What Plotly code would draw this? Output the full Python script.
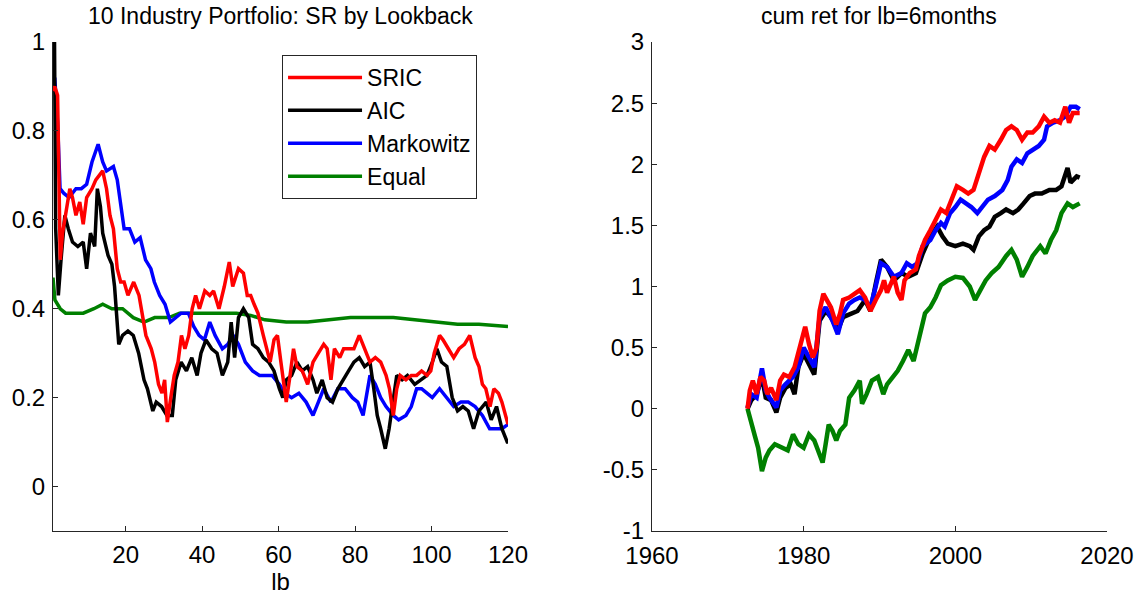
import plotly.graph_objects as go

# ---------------- Left panel: Sharpe ratio by lookback ----------------
sric_lb = [1, 1.45, 2.2, 2.6, 2.9, 3.5, 4.3, 5.4, 6.1, 7, 8, 8.9, 9.8, 11.2, 12.2, 13.1, 14, 15, 15.9, 16.8,
           17.8, 18.7, 19.6, 20.6, 22.1, 23.5, 24.4, 25.3, 26.7, 27.6, 28.6, 29.5, 30.2, 30.9, 31.8, 32.7, 33.7,
           34.6, 35.5, 36.5, 37.4, 38.3, 39.3, 40.7, 42, 43, 44.4, 45.8, 47.1, 48, 49.5, 50.8, 51.8, 52.7, 53.6,
           54.6, 56, 56.9, 57.8, 58.8, 59.7, 60.6, 61.6, 62, 63, 63.9, 64.8, 66.2, 67.6, 69, 70.4, 71.8, 72.7,
           73.7, 74.6, 76, 77, 78.3, 79.7, 81.1, 82.5, 83.9, 85.3, 86.7, 88.1, 89, 90, 90.9, 91.8, 93.3, 94.7,
           96.1, 97.4, 98.8, 99.8, 100.7, 102.1, 103, 104.4, 105.8, 107.2, 108.6, 110, 111.4, 112.4, 113.3,
           114.2, 115.3, 116.3, 117.5, 118.4, 119.8, 120]
sric_sr = [0.89, 0.90, 0.88, 0.72, 0.51, 0.57, 0.61, 0.67, 0.65, 0.61, 0.64, 0.59, 0.65, 0.67, 0.69, 0.70, 0.71,
           0.67, 0.61, 0.58, 0.49, 0.46, 0.46, 0.43, 0.46, 0.43, 0.39, 0.34, 0.31, 0.28, 0.23, 0.21, 0.24, 0.145,
           0.20, 0.25, 0.28, 0.34, 0.31, 0.34, 0.40, 0.43, 0.40, 0.44, 0.43, 0.44, 0.40, 0.45, 0.505, 0.45, 0.49,
           0.48, 0.43, 0.43, 0.41, 0.39, 0.34, 0.31, 0.28, 0.33, 0.34, 0.28, 0.21, 0.19, 0.25, 0.31, 0.27, 0.26,
           0.23, 0.28, 0.30, 0.32, 0.31, 0.24, 0.31, 0.29, 0.31, 0.31, 0.31, 0.34, 0.31, 0.28, 0.29, 0.28, 0.25,
           0.22, 0.16, 0.22, 0.25, 0.24, 0.25, 0.25, 0.26, 0.25, 0.26, 0.30, 0.34, 0.33, 0.31, 0.29, 0.31, 0.32,
           0.34, 0.29, 0.27, 0.23, 0.22, 0.18, 0.22, 0.21, 0.19, 0.15, 0.14]

aic_lb = [1, 1.4, 1.7, 2.4, 3.1, 4.1, 5, 6.1, 7.5, 8.9, 9.8, 10.8, 11.9, 12.6, 13.4, 14, 15.4, 16.4, 17.1, 18.2,
          19.2, 20.6, 22, 23.4, 24.8, 25.7, 27.1, 28, 29.4, 30.8, 32.2, 33.1, 34.5, 35.9, 37.3, 38.7, 39.7, 41,
          42.5, 43.9, 45.3, 46.7, 47.6, 48.5, 49.5, 50.8, 52.2, 53.2, 54.6, 56, 57.4, 58.8, 60.2, 61.1, 62, 63.4,
          64.8, 66.2, 67.6, 69, 70, 71.4, 72.7, 74.1, 75.5, 77, 78.3, 79.7, 81.1, 82.5, 83.9, 84.9, 85.8, 86.7,
          87.9, 88.9, 90, 90.9, 92.3, 93.7, 95.6, 97.4, 98.8, 100.2, 101.4, 102.6, 104, 105.4, 106.8, 108.2,
          109.6, 111, 112.4, 114.3, 115.6, 117, 118.4, 119.8, 120]
aic_sr = [0.97, 1.0, 0.58, 0.43, 0.51, 0.61, 0.58, 0.55, 0.54, 0.55, 0.49, 0.57, 0.54, 0.67, 0.63, 0.57, 0.52,
          0.50, 0.45, 0.32, 0.34, 0.35, 0.34, 0.30, 0.24, 0.22, 0.17, 0.19, 0.18, 0.16, 0.16, 0.24, 0.28, 0.26,
          0.29, 0.25, 0.30, 0.33, 0.31, 0.30, 0.25, 0.28, 0.37, 0.29, 0.38, 0.40, 0.38, 0.32, 0.31, 0.29, 0.28,
          0.26, 0.22, 0.20, 0.24, 0.25, 0.28, 0.26, 0.27, 0.24, 0.21, 0.24, 0.20, 0.19, 0.22, 0.24, 0.26, 0.28,
          0.29, 0.27, 0.28, 0.22, 0.16, 0.13, 0.085, 0.13, 0.20, 0.25, 0.24, 0.25, 0.23, 0.24, 0.25, 0.28, 0.31,
          0.28, 0.27, 0.20, 0.17, 0.18, 0.17, 0.13, 0.17, 0.19, 0.15, 0.18, 0.13, 0.10, 0.10]

mark_lb = [1, 1.45, 2.2, 2.85, 3.8, 5.2, 7.0, 8.4, 9.8, 11.2, 12.8, 14.0, 15, 16.8, 17.8, 18.7, 19.6, 21, 22.4,
           23.8, 25.2, 26.6, 27.5, 28.9, 30.3, 31.7, 33.1, 34.5, 36.4, 37.8, 39.2, 40.6, 42, 43.4, 45.3, 46.7,
           48.1, 49.5, 51.3, 53.2, 55, 56.4, 58.3, 60.2, 61.6, 63.4, 65.3, 67.2, 69, 70.4, 71.8, 73.7, 75.5, 77.4,
           79.3, 80.7, 82.1, 83.9, 85.3, 86.7, 88.1, 90, 91.4, 93.3, 94.7, 96.1, 97.4, 98.8, 100.2, 102.1, 104,
           105.8, 107.7, 109.6, 111.4, 113.3, 115.2, 117, 118.4, 120]
mark_sr = [0.91, 0.92, 0.82, 0.67, 0.66, 0.65, 0.67, 0.67, 0.68, 0.73, 0.77, 0.73, 0.71, 0.72, 0.69, 0.63, 0.58,
           0.58, 0.55, 0.56, 0.51, 0.49, 0.46, 0.43, 0.41, 0.37, 0.38, 0.39, 0.39, 0.36, 0.34, 0.33, 0.37, 0.34,
           0.31, 0.32, 0.34, 0.32, 0.28, 0.26, 0.25, 0.25, 0.25, 0.23, 0.21, 0.20, 0.21, 0.19, 0.16, 0.19, 0.22,
           0.19, 0.22, 0.22, 0.20, 0.19, 0.16, 0.25, 0.23, 0.20, 0.18, 0.16, 0.15, 0.16, 0.18, 0.22, 0.22, 0.21,
           0.20, 0.22, 0.20, 0.18, 0.19, 0.19, 0.18, 0.16, 0.13, 0.13, 0.13, 0.14]

equal_lb = [1, 1.5, 2.9, 4.3, 6.1, 8.9, 11.7, 14, 16.4, 19.2, 22, 24.8, 27.6, 31.3, 34.1, 37.8, 41.5, 45.3, 49,
            52.7, 56.4, 62, 67.6, 73.2, 78.8, 84.4, 90, 95.6, 101.2, 106.8, 112.4, 120]
equal_sr = [0.47, 0.42, 0.40, 0.39, 0.39, 0.39, 0.40, 0.41, 0.40, 0.40, 0.38, 0.37, 0.38, 0.38, 0.39, 0.39, 0.39,
            0.39, 0.39, 0.385, 0.375, 0.37, 0.37, 0.375, 0.38, 0.38, 0.38, 0.375, 0.37, 0.365, 0.365, 0.36]

# ---------------- Right panel: cumulative return, lb = 6 months ----------------
sric_yr = [1972.6, 1972.9, 1973.3, 1973.8, 1974.3, 1974.8, 1975.2, 1975.7, 1976.4, 1976.9, 1977.4, 1978.1,
           1978.8, 1979.3, 1979.8, 1980.2, 1980.7, 1981.2, 1981.7, 1982.1, 1982.6, 1983.1, 1983.6, 1984.3,
           1984.8, 1985.2, 1986, 1986.7, 1987.4, 1988.1, 1988.8, 1989.5, 1990.2, 1990.6, 1991.0, 1991.9, 1992.4,
           1992.9, 1993.3, 1994, 1994.8, 1995.2, 1996, 1996.7, 1997.4, 1998.1, 1998.8, 1999.5, 2000.2, 2001,
           2001.7, 2002.4, 2003.1, 2003.8, 2004.5, 2005.2, 2006, 2006.7, 2007.4, 2008.1, 2008.8, 2009.5, 2010.2,
           2011, 2011.7, 2012.4, 2013.1, 2013.8, 2014.5, 2015, 2015.5, 2016.4]
sric_cum = [0, 0.15, 0.23, 0.12, 0.26, 0.23, 0.12, 0.17, 0.07, 0.23, 0.28, 0.26, 0.34, 0.45, 0.58, 0.67, 0.53,
            0.42, 0.50, 0.80, 0.94, 0.89, 0.83, 0.69, 0.78, 0.89, 0.91, 0.94, 0.97, 0.91, 0.80, 0.89, 0.97, 1.05,
            0.95, 1.08, 0.95, 0.89, 1.05, 1.11, 1.14, 1.25, 1.38, 1.46, 1.55, 1.63, 1.60, 1.71, 1.82, 1.79, 1.76,
            1.79, 1.93, 2.06, 2.15, 2.12, 2.20, 2.28, 2.31, 2.28, 2.20, 2.26, 2.26, 2.31, 2.39, 2.34, 2.36, 2.34,
            2.47, 2.34, 2.42, 2.42]

aic_yr = [1972.6, 1973.1, 1973.8, 1974.5, 1975, 1975.7, 1976.4, 1976.9, 1977.6, 1978.3, 1978.8, 1979.3, 1980,
          1980.7, 1981.4, 1982.1, 1982.9, 1983.6, 1984.5, 1985.2, 1986.2, 1987.1, 1988.1, 1988.8, 1989.5, 1990.2,
          1991, 1991.9, 1992.9, 1993.8, 1994.8, 1995.7, 1996.7, 1997.6, 1998.3, 1999, 2000, 2001, 2001.9, 2002.4,
          2003.1, 2003.8, 2004.5, 2005.2, 2006, 2006.7, 2007.6, 2008.3, 2009, 2009.8, 2010.5, 2011.4, 2012.4,
          2013.3, 2014, 2014.8, 2015.2, 2016, 2016.4]
aic_cum = [0, 0.07, 0.12, 0.26, 0.09, 0.07, -0.03, 0.09, 0.17, 0.20, 0.12, 0.34, 0.45, 0.37, 0.28, 0.72, 0.80,
           0.75, 0.64, 0.75, 0.78, 0.80, 0.89, 0.80, 1.02, 1.22, 1.16, 1.05, 1.11, 1.08, 1.11, 1.27, 1.41, 1.49,
           1.41, 1.35, 1.33, 1.35, 1.33, 1.30, 1.41, 1.46, 1.49, 1.57, 1.60, 1.63, 1.60, 1.63, 1.68, 1.74, 1.76,
           1.76, 1.79, 1.79, 1.82, 1.97, 1.85, 1.90, 1.89]

mark_yr = [1972.6, 1973.1, 1973.8, 1974.5, 1975, 1975.5, 1976.4, 1976.9, 1977.6, 1978.6, 1979.3, 1980, 1980.7,
           1981.4, 1982.1, 1982.9, 1983.8, 1984.5, 1985.2, 1986, 1986.7, 1987.4, 1988.1, 1988.8, 1989.5, 1990.2,
           1991, 1991.9, 1992.9, 1993.6, 1994.3, 1995, 1995.7, 1996.7, 1997.4, 1998.1, 1998.6, 1999.3, 2000,
           2000.7, 2001.4, 2002.1, 2002.9, 2003.6, 2004.3, 2005.2, 2006.2, 2006.9, 2007.4, 2008.1, 2008.8, 2009.5,
           2010.2, 2011, 2011.7, 2012.1, 2012.9, 2013.8, 2014.5, 2015.2, 2015.9, 2016.4]
mark_cum = [0.01, 0.12, 0.09, 0.33, 0.15, 0.09, 0.01, 0.15, 0.20, 0.26, 0.34, 0.50, 0.42, 0.34, 0.75, 0.83, 0.72,
            0.61, 0.78, 0.86, 0.89, 0.91, 0.89, 0.83, 1.00, 1.19, 1.16, 1.08, 1.11, 1.19, 1.16, 1.19, 1.33, 1.38,
            1.46, 1.52, 1.49, 1.60, 1.65, 1.71, 1.68, 1.65, 1.60, 1.65, 1.71, 1.74, 1.79, 1.87, 1.98, 2.04, 2.01,
            2.09, 2.12, 2.15, 2.20, 2.31, 2.34, 2.36, 2.39, 2.47, 2.47, 2.45]

equal_yr = [1972.6, 1973.1, 1973.6, 1974, 1974.5, 1975, 1975.5, 1976.2, 1977.1, 1977.9, 1978.6, 1979.3, 1980,
            1980.7, 1981.4, 1981.9, 1982.5, 1982.9, 1983.3, 1983.8, 1984.3, 1984.8, 1985.5, 1986, 1986.7, 1987.4,
            1987.7, 1988.3, 1989, 1989.8, 1990.5, 1991, 1991.7, 1992.4, 1993.1, 1993.8, 1994.5, 1995.2, 1996,
            1996.7, 1997.4, 1998.1, 1999, 2000, 2001, 2001.9, 2002.6, 2003.3, 2004, 2004.8, 2005.7, 2006.7, 2007.4,
            2008.1, 2008.8, 2009.5, 2010.2, 2011.2, 2011.9, 2012.6, 2013.3, 2014, 2014.8, 2015.5, 2016.4]
equal_cum = [0, -0.13, -0.23, -0.32, -0.51, -0.40, -0.34, -0.29, -0.32, -0.34, -0.21, -0.29, -0.32, -0.21, -0.26,
             -0.34, -0.44, -0.29, -0.13, -0.18, -0.26, -0.18, -0.13, 0.09, 0.15, 0.23, 0.04, 0.12, 0.23, 0.26, 0.12,
             0.20, 0.26, 0.31, 0.39, 0.48, 0.39, 0.56, 0.78, 0.83, 0.91, 1.01, 1.05, 1.08, 1.07, 1.00, 0.89, 0.97,
             1.05, 1.11, 1.16, 1.25, 1.30, 1.22, 1.08, 1.16, 1.25, 1.33, 1.27, 1.38, 1.46, 1.60, 1.68, 1.65, 1.68]

names = ["SRIC", "AIC", "Markowitz", "Equal"]
colors = {"SRIC": "#ff0000", "AIC": "#000000", "Markowitz": "#0000ff", "Equal": "#008000"}

FONT = "Liberation Sans, Arial, Helvetica, sans-serif"
AX = "#262626"

fig = go.Figure()

left = {"SRIC": (sric_lb, sric_sr), "AIC": (aic_lb, aic_sr),
        "Markowitz": (mark_lb, mark_sr), "Equal": (equal_lb, equal_sr)}
right = {"SRIC": (sric_yr, sric_cum), "AIC": (aic_yr, aic_cum),
         "Markowitz": (mark_yr, mark_cum), "Equal": (equal_yr, equal_cum)}

# left panel (draw order: Equal, Markowitz, AIC, SRIC on top)
for nm in ["Equal", "Markowitz", "AIC", "SRIC"]:
    x, y = left[nm]
    fig.add_trace(go.Scatter(x=x, y=y, mode="lines", name=nm, xaxis="x", yaxis="y",
                             line=dict(color=colors[nm], width=3.5),
                             legendrank=names.index(nm) + 1))
# right panel
for nm in ["Equal", "AIC", "Markowitz", "SRIC"]:
    x, y = right[nm]
    fig.add_trace(go.Scatter(x=x, y=y, mode="lines", name=nm, xaxis="x2", yaxis="y2",
                             line=dict(color=colors[nm], width=4.5), showlegend=False))

axis_common = dict(showline=True, linecolor=AX, linewidth=1, ticks="inside", ticklen=5,
                   tickcolor=AX, showgrid=False, zeroline=False, mirror=False, automargin=False,
                   tickfont=dict(family=FONT, size=24, color="#000000"))

fig.update_layout(
    width=1147, height=596,
    margin=dict(l=53, r=40, t=42, b=65, autoexpand=False),
    paper_bgcolor="white", plot_bgcolor="white",
    font=dict(family=FONT, size=23, color="#000000"),
    showlegend=True,
    legend=dict(x=0.2173, y=0.9734, xanchor="left", yanchor="top",
                bgcolor="white", bordercolor=AX, borderwidth=1,
                font=dict(family=FONT, size=23, color="#000000"),
                itemwidth=74, tracegroupgap=0,
                entrywidth=150, entrywidthmode="pixels"),
    xaxis=dict(domain=[0, 0.4317], range=[1, 120], tickvals=[20, 40, 60, 80, 100, 120],
               title=dict(text="lb", font=dict(family=FONT, size=24), standoff=0),
               anchor="y", ticklabelstandoff=2, **axis_common),
    yaxis=dict(domain=[0, 1], range=[-0.1, 1], tickvals=[0, 0.2, 0.4, 0.6, 0.8, 1],
               ticktext=["0", "0.2", "0.4", "0.6", "0.8", "1"], anchor="x",
               ticklabelstandoff=2, **axis_common),
    xaxis2=dict(domain=[0.5683, 1], range=[1960, 2020], tickvals=[1960, 1980, 2000, 2020],
                anchor="y2", ticklabelstandoff=3, **axis_common),
    yaxis2=dict(domain=[0, 1], range=[-1, 3], tickvals=[-1, -0.5, 0, 0.5, 1, 1.5, 2, 2.5, 3],
                ticktext=["-1", "-0.5", "0", "0.5", "1", "1.5", "2", "2.5", "3"], anchor="x2",
                ticklabelstandoff=2, **axis_common),
    annotations=[
        dict(text="10 Industry Portfolio: SR by Lookback", x=0.4317 / 2, y=1, xref="paper", yref="paper",
             xanchor="center", yanchor="bottom", yshift=11, showarrow=False,
             font=dict(family=FONT, size=23, color="#000000")),
        dict(text="cum ret for lb=6months", x=(0.5683 + 1) / 2, y=1, xref="paper", yref="paper",
             xanchor="center", yanchor="bottom", yshift=11, showarrow=False,
             font=dict(family=FONT, size=23, color="#000000")),
    ],
)

# remove the browser's default 8px body margin so the figure sits at the page origin
fig.write_html("out.html", config={"displayModeBar": False},
               post_script="document.body.style.margin='0';document.body.style.padding='0';")
